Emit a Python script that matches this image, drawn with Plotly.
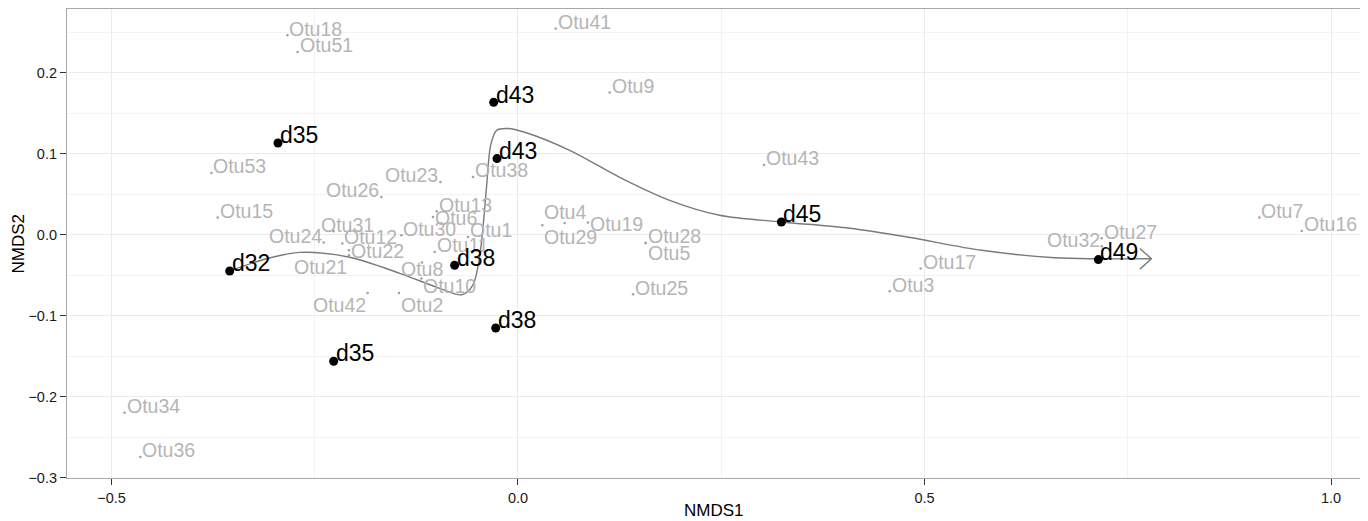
import numpy as np
import plotly.graph_objects as go

# ---------------- data ----------------
site_labels = ["d35", "d43", "d43", "d45", "d49", "d32", "d38", "d38", "d35"]
site_x = [-0.2952, -0.0299, -0.0258, 0.3240, 0.7139, -0.3546, -0.0779, -0.0274, -0.2267]
site_y = [0.1131, 0.1633, 0.0938, 0.0156, -0.0309, -0.0449, -0.0379, -0.1153, -0.1564]

otu_labels = ["Otu18", "Otu51", "Otu41", "Otu9", "Otu53", "Otu26", "Otu23", "Otu38",
              "Otu43", "Otu13", "Otu6", "Otu15", "Otu31", "Otu24", "Otu12", "Otu30",
              "Otu1", "Otu22", "Otu21", "Otu11", "Otu8", "Otu10", "Otu42", "Otu2",
              "Otu4", "Otu29", "Otu19", "Otu28", "Otu5", "Otu25", "Otu17", "Otu3",
              "Otu32", "Otu27", "Otu7", "Otu16", "Otu34", "Otu36"]
otu_x = [-0.2836, -0.2710, 0.0464, 0.1128, -0.3771, -0.1680, -0.0954, -0.0554,
         0.3026, -0.1000, -0.1046, -0.3694, -0.2267, -0.2390, -0.2160, -0.1434,
         -0.0615, -0.2079, -0.2079, -0.1025, -0.1181, -0.1188, -0.1849, -0.1464,
         0.0574, 0.0300, 0.0861, 0.1571, 0.1571, 0.1415, 0.4953, 0.4572,
         0.7180, 0.7180, 0.9119, 0.9640, -0.4838, -0.4645]
otu_y = [0.2460, 0.2254, 0.2543, 0.1753, 0.0760, 0.0464, 0.0649, 0.0711,
         0.0859, 0.0288, 0.0217, 0.0210, 0.0041, -0.0099, -0.0111, -0.0009,
         -0.0030, -0.0194, -0.0256, -0.0215, -0.0346, -0.0543, -0.0721, -0.0721,
         0.0143, 0.0115, 0.0148, -0.0104, -0.0104, -0.0737, -0.0420, -0.0700,
         -0.0144, -0.0046, 0.0210, 0.0044, -0.2198, -0.2746]

# smoothed time trajectory (knots)
traj_x = [-0.3546, -0.3116, -0.2685, -0.2070, -0.1455, -0.0963, -0.0692, -0.0557,
          -0.0483, -0.0434, -0.0385, -0.0336, -0.0262, -0.0127, 0.0082, 0.0636,
          0.1251, 0.1866, 0.2481, 0.3240, 0.4080, 0.4806, 0.5703, 0.6601,
          0.7118, 0.7791]
traj_y = [-0.0449, -0.0305, -0.0219, -0.0280, -0.0478, -0.0663, -0.0743, -0.0626,
          -0.0342, 0.0053, 0.0609, 0.1102, 0.1288, 0.1309, 0.1263, 0.1040,
          0.0707, 0.0423, 0.0238, 0.0156, 0.0078, -0.0033, -0.0194, -0.0286,
          -0.0299, -0.0299]

x_ticks = [-0.5, 0.0, 0.5, 1.0]
y_ticks = [-0.3, -0.2, -0.1, 0.0, 0.1, 0.2]
x_title = "NMDS1"
y_title = "NMDS2"

# ---------------- style ----------------
# the page body has an 8px margin, so the figure is sized/offset to compensate
PAGE_OFF = 8
W, H = 1368 - PAGE_OFF, 521 - PAGE_OFF
ML, MR, MT, MB = 67 - PAGE_OFF, 7, 1, 43
XR = [-0.5547, 1.0369]
YR = [-0.3005, 0.2785]
FONT = "Liberation Sans, Arial, Helvetica, sans-serif"
OTU_COL = "#b5b5b5"
OTU_SIZE = 19.5
SITE_SIZE = 23

# label placement relative to its point (repelled labels in the original)
label_pos = {
    "Otu26": "top left", "Otu23": "top left", "Otu24": "top left",
    "Otu31": "top center", "Otu6": "middle right", "Otu22": "middle right",
    "Otu21": "bottom left", "Otu8": "bottom center", "Otu10": "bottom right",
    "Otu42": "bottom left", "Otu2": "bottom right", "Otu4": "top center",
    "Otu29": "bottom right", "Otu19": "middle right", "Otu5": "bottom right",
    "Otu32": "top left",
}
# extra pixel nudges (dx right, dy up)
label_nudge = {"Otu31": (14, 0), "Otu8": (0, 6), "Otu10": (0, 5), "Otu5": (0, 2),
               "Otu4": (0, 4)}


def anchor(pos, size):
    v, h = pos.split()
    xa = {"right": "left", "left": "right", "center": "center"}[h]
    ya = {"top": "bottom", "bottom": "top", "middle": "middle"}[v]
    ys = {"top": -0.27 * size, "bottom": 0.0, "middle": -0.05 * size}[v]
    xs = {"right": 1, "left": -1, "center": 0}[h]
    return xa, ya, xs, ys


fig = go.Figure()

# OTU points
fig.add_trace(go.Scatter(x=otu_x, y=otu_y, mode="markers",
                         marker=dict(size=2.5, color="#a0a0a0"),
                         hoverinfo="skip", showlegend=False))

# trajectory curve
fig.add_trace(go.Scatter(x=traj_x, y=traj_y, mode="lines",
                         line=dict(color="#7a7a7a", width=1.4, shape="spline", smoothing=0.9),
                         hoverinfo="skip", showlegend=False))

# open arrow head at the end of the trajectory
plot_w = W - ML - MR
plot_h = H - MT - MB
sx = plot_w / (XR[1] - XR[0])
sy = plot_h / (YR[1] - YR[0])
tx, ty = traj_x[-1], traj_y[-1]
dxp = (traj_x[-1] - traj_x[-2]) * sx
dyp = (traj_y[-1] - traj_y[-2]) * sy
n = np.hypot(dxp, dyp)
ux, uy = dxp / n, dyp / n
back, half = 11.5, 10.3
wx1 = tx + (-back * ux - half * uy) / sx
wy1 = ty + (-back * uy + half * ux) / sy
wx2 = tx + (-back * ux + half * uy) / sx
wy2 = ty + (-back * uy - half * ux) / sy
fig.add_trace(go.Scatter(x=[wx1, tx, wx2], y=[wy1, ty, wy2], mode="lines",
                         line=dict(color="#7a7a7a", width=1.4),
                         hoverinfo="skip", showlegend=False))

# site points
fig.add_trace(go.Scatter(x=site_x, y=site_y, mode="markers",
                         marker=dict(size=9, color="black"),
                         hoverinfo="skip", showlegend=False))

annotations = []
for lab, x, y in zip(otu_labels, otu_x, otu_y):
    xa, ya, xs, ys = anchor(label_pos.get(lab, "top right"), OTU_SIZE)
    ndx, ndy = label_nudge.get(lab, (0, 0))
    annotations.append(dict(x=x, y=y, xref="x", yref="y", text=lab, showarrow=False,
                            xanchor=xa, yanchor=ya, xshift=xs + ndx, yshift=ys + ndy,
                            borderpad=0,
                            font=dict(family=FONT, size=OTU_SIZE, color=OTU_COL)))
for lab, x, y in zip(site_labels, site_x, site_y):
    xa, ya, xs, ys = anchor("top right", SITE_SIZE)
    annotations.append(dict(x=x, y=y, xref="x", yref="y", text=lab, showarrow=False,
                            xanchor=xa, yanchor=ya, xshift=xs, yshift=ys, borderpad=0,
                            font=dict(family=FONT, size=SITE_SIZE, color="black")))

# axis titles (positions in page pixels converted to paper units)
bottom_px = PAGE_OFF + H - MB
annotations.append(dict(x=0.5, y=-(510 - bottom_px) / plot_h, xref="paper", yref="paper",
                        text=x_title, showarrow=False, xanchor="center", yanchor="middle",
                        font=dict(family=FONT, size=17, color="black")))
annotations.append(dict(x=(18 - (PAGE_OFF + ML)) / plot_w, y=0.5, xref="paper", yref="paper",
                        text=y_title, showarrow=False, xanchor="center", yanchor="middle",
                        textangle=-90, font=dict(family=FONT, size=17, color="black")))

axis_common = dict(
    showline=True, linecolor="#a8a8a8", linewidth=1.2, mirror=True,
    showgrid=True, gridcolor="#ebebeb", gridwidth=1,
    zeroline=False, ticks="outside", ticklen=6, tickcolor="#333333", tickwidth=1,
    tickfont=dict(family=FONT, size=14.5, color="#1a1a1a"),
    tickformat=".1f", automargin=False,
)

fig.update_layout(
    width=W, height=H,
    margin=dict(l=ML, r=MR, t=MT, b=MB, autoexpand=False),
    paper_bgcolor="white", plot_bgcolor="white",
    xaxis=dict(range=XR, tickvals=x_ticks,
               minor=dict(dtick=0.25, tick0=0, showgrid=True, gridcolor="#f3f3f3", gridwidth=0.6, ticks=""),
               **axis_common),
    yaxis=dict(range=YR, tickvals=y_ticks,
               minor=dict(dtick=0.05, tick0=0, showgrid=True, gridcolor="#f3f3f3", gridwidth=0.6, ticks=""),
               **axis_common),
    annotations=annotations,
    showlegend=False,
)

fig.write_html("out.html")
